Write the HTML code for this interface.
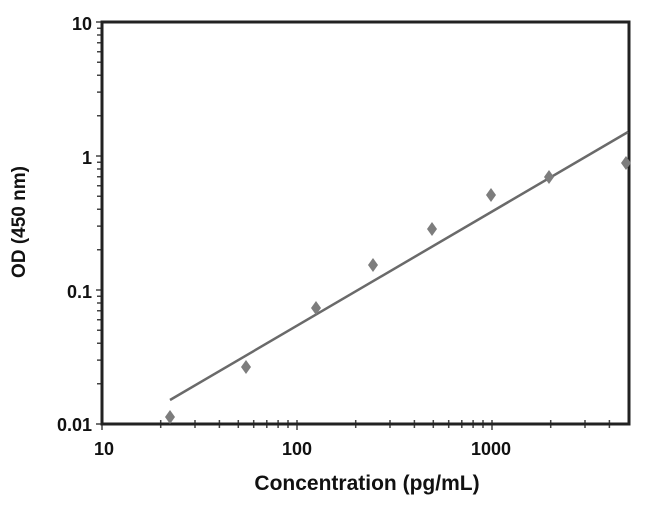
<!DOCTYPE html>
<html><head><meta charset="utf-8"><style>
body{margin:0;background:#fff;}
svg text{font-family:"Liberation Sans",Arial,sans-serif;font-weight:bold;fill:#111;}
</style></head><body>
<svg width="650" height="510" viewBox="0 0 650 510" xmlns="http://www.w3.org/2000/svg">
<rect width="650" height="510" fill="#fff"/>
<path stroke="#444" stroke-width="1.5" fill="none" d="
M96 424H102 M97 383.7H102 M97 360.1H102 M97 343.3H102 M97 330.3H102 M97 319.7H102 M97 310.8H102 M97 303H102 M97 296.2H102
M96 290H102 M97 249.7H102 M97 226.1H102 M97 209.3H102 M97 196.3H102 M97 185.7H102 M97 176.8H102 M97 169H102 M97 162.2H102
M96 156H102 M97 115.7H102 M97 92.1H102 M97 75.3H102 M97 62.3H102 M97 51.7H102 M97 42.8H102 M97 35H102 M97 28.2H102 M96 22H102
M102 420V430 M160.7 420V428 M195 420V428 M219.4 420V428 M238.3 420V428 M253.7 420V428 M266.8 420V428 M278.1 420V428 M288 420V428
M297 420V430 M355.7 420V428 M390 420V428 M414.4 420V428 M433.3 420V428 M448.7 420V428 M461.8 420V428 M473.1 420V428 M483 420V428
M492 420V430 M550.7 420V428 M585 420V428 M609.4 420V428"/>
<rect x="102" y="22" width="527" height="402" fill="none" stroke="#222" stroke-width="3"/>
<line x1="170" y1="400" x2="628" y2="132" stroke="#6a6a6a" stroke-width="2.5"/>
<g fill="#7d7d7d">
<path d="M170 410 l5 7 l-5 7 l-5 -7z"/>
<path d="M246 360 l5 7 l-5 7 l-5 -7z"/>
<path d="M316 301 l5 7 l-5 7 l-5 -7z"/>
<path d="M373 258 l5 7 l-5 7 l-5 -7z"/>
<path d="M432 222 l5 7 l-5 7 l-5 -7z"/>
<path d="M491 188 l5 7 l-5 7 l-5 -7z"/>
<path d="M549 170 l5 7 l-5 7 l-5 -7z"/>
<path d="M626 156 l5 7 l-5 7 l-5 -7z"/>
</g>
<g font-size="18" text-anchor="end">
<text x="92" y="30">10</text>
<text x="92" y="164">1</text>
<text x="92" y="298">0.1</text>
<text x="92" y="431">0.01</text>
</g>
<g font-size="18" text-anchor="middle">
<text x="104" y="455">10</text>
<text x="297" y="455">100</text>
<text x="491" y="455">1000</text>
</g>
<text x="367" y="490" font-size="21" text-anchor="middle">Concentration (pg/mL)</text>
<text transform="translate(25,222) rotate(-90)" font-size="19" text-anchor="middle">OD (450 nm)</text>
</svg>
</body></html>
